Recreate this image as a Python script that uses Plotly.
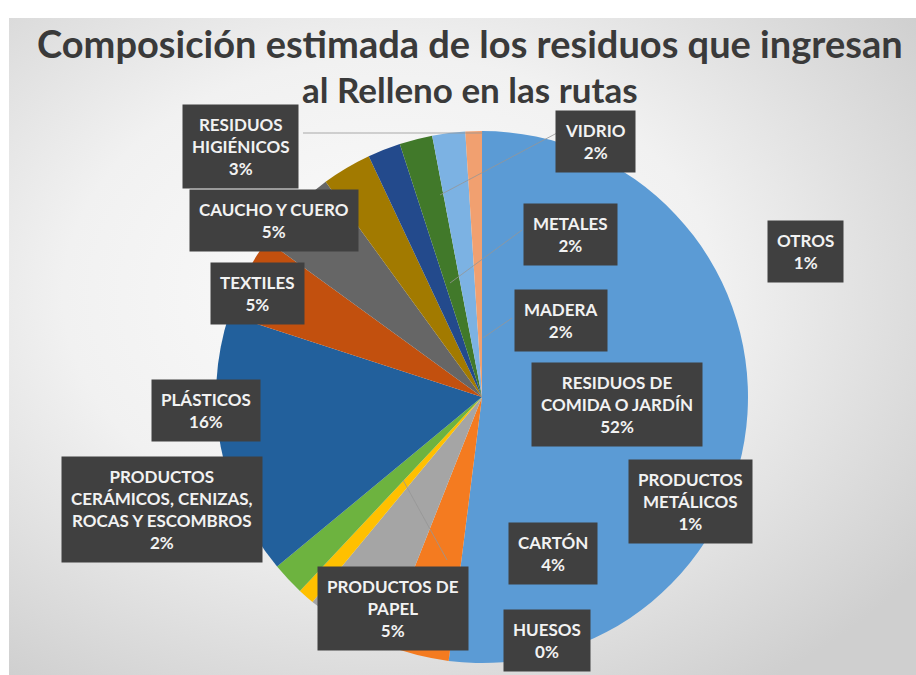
import base64
import plotly.graph_objects as go

# ---------------- data ----------------
categories = [
    "RESIDUOS DE COMIDA O JARDÍN", "CARTÓN", "PRODUCTOS DE PAPEL",
    "PRODUCTOS METÁLICOS", "HUESOS", "PRODUCTOS CERÁMICOS, CENIZAS, ROCAS Y ESCOMBROS",
    "PLÁSTICOS", "TEXTILES", "CAUCHO Y CUERO", "RESIDUOS HIGIÉNICOS",
    "MADERA", "METALES", "VIDRIO", "OTROS",
]
values = [52, 4, 5, 1, 0, 2, 16, 5, 5, 3, 2, 2, 2, 1]
label_text = [
    "RESIDUOS DE<br>COMIDA O JARDÍN", "CARTÓN", "PRODUCTOS DE<br>PAPEL",
    "PRODUCTOS<br>METÁLICOS", "HUESOS",
    "PRODUCTOS<br>CERÁMICOS, CENIZAS,<br>ROCAS Y ESCOMBROS",
    "PLÁSTICOS", "TEXTILES", "CAUCHO Y CUERO", "RESIDUOS<br>HIGIÉNICOS",
    "MADERA", "METALES", "VIDRIO", "OTROS",
]
title_lines = ["Composición estimada de los residuos que ingresan",
               "al Relleno en las rutas"]

# ---------------- styles / layout ----------------
W, H = 916, 675
colors = ["#5B9BD5", "#F47B20", "#A5A5A5", "#FFC000", "#4472C4", "#6DB33F",
          "#22609C", "#C2500E", "#666666", "#A27A00", "#234A8C", "#41792A",
          "#7CB2E3", "#F1A070"]
# label box centres in pixels (x, y from top)
label_pos = [(617, 404), (553, 553), (393, 608), (690, 501), (547, 640),
             (162, 509), (206, 410), (257, 293), (274, 220), (240, 146),
             (561, 321), (570, 235), (595, 142), (805, 252)]

cx, cy, r = 482, 397, 266

def px(x):
    return x / W

def py(y):
    return 1 - y / H

fig = go.Figure(go.Pie(
    labels=categories, values=values, sort=False, direction="clockwise",
    rotation=0, textinfo="none", hoverinfo="label+percent",
    marker=dict(colors=colors, line=dict(width=0)),
    domain=dict(x=[px(cx - r), px(cx + r)], y=[py(cy + r), py(cy - r)]),
    showlegend=False,
))

total = sum(values)
annotations = []
for txt, v, (x, y) in zip(label_text, values, label_pos):
    pct = round(v / total * 100)
    annotations.append(dict(
        x=px(x), y=py(y), xref="paper", yref="paper",
        xanchor="center", yanchor="middle", showarrow=False,
        text=f"{txt}<br>{pct}%", align="center",
        font=dict(family="Lato", size=17, color="#F2F2F2", weight="bold"),
        bgcolor="#404040", borderpad=9,
    ))

for line, ymid, size in zip(title_lines, [43, 89], [38, 35]):
    annotations.append(dict(
        x=px(470), y=py(ymid), xref="paper", yref="paper",
        xanchor="center", yanchor="middle", showarrow=False, text=line,
        font=dict(family="Lato", size=size, color="#3A3A3A", weight="bold"),
    ))

# leader lines (pixel coords)
leaders = [((303, 133), (483, 133)), ((557, 133), (440, 195)),
           ((522, 230), (450, 283)), ((512, 318), (483, 338)),
           ((403, 480), (447, 560))]
shapes = []
for (x0, y0), (x1, y1) in leaders:
    shapes.append(dict(type="line", xref="paper", yref="paper",
                       x0=px(x0), y0=py(y0), x1=px(x1), y1=py(y1),
                       line=dict(color="rgba(150,150,150,0.8)", width=1),
                       layer="above"))

svg = ('<svg xmlns="http://www.w3.org/2000/svg" width="907" height="657" '
       'preserveAspectRatio="none">'
       '<defs><radialGradient id="g" cx="0.42" cy="0.42" r="0.72">'
       '<stop offset="0" stop-color="#fcfcfc"/>'
       '<stop offset="0.5" stop-color="#f1f1f1"/>'
       '<stop offset="1" stop-color="#cfcfcf"/></radialGradient></defs>'
       '<rect width="907" height="657" fill="url(#g)"/></svg>')
src = "data:image/svg+xml;base64," + base64.b64encode(svg.encode()).decode()

fig.update_layout(
    width=W, height=H, margin=dict(l=0, r=0, t=0, b=0),
    paper_bgcolor="#ffffff", plot_bgcolor="#ffffff",
    annotations=annotations, shapes=shapes,
    images=[dict(source=src, xref="paper", yref="paper", x=px(9), y=py(18),
                 sizex=(W - 9) / W, sizey=(H - 18) / H, xanchor="left",
                 yanchor="top", sizing="stretch", layer="below")],
)

fig.write_html("out.html",
               config={"displayModeBar": False},
               post_script="document.body.style.margin='0px';"
                           "document.body.style.padding='0px';")
